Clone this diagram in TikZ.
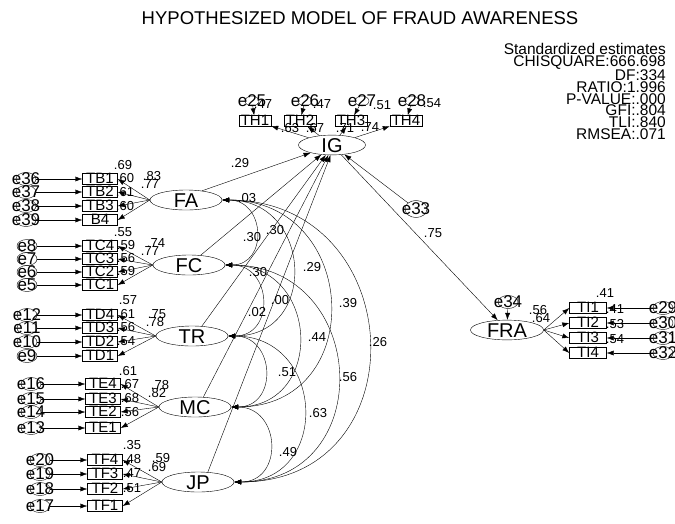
\documentclass[tikz,border=0pt]{standalone}
\usepackage{fontspec}
\setmainfont{Liberation Sans}
\usetikzlibrary{arrows.meta,shapes.geometric}

\tikzset{
  lat/.style={ellipse,draw,minimum width=72pt,minimum height=20pt,inner sep=0pt,
    text height=14pt,text depth=0pt,font=\fontsize{20}{20}\selectfont},
  obs/.style={rectangle,draw,minimum width=35pt,minimum height=11pt,inner sep=0pt,
    text height=9pt,text depth=0pt,font=\fontsize{15}{15}\selectfont},
  err/.style={ellipse,draw,minimum width=20pt,minimum height=13pt,inner sep=0pt,
    label={[font=\fontsize{17}{17}\selectfont]center:#1}},
  est/.style={font=\fontsize{13}{13}\selectfont,inner sep=0pt},
  reg/.style={-{Latex[length=7pt,width=5pt]}},
  cov/.style={{Latex[length=7pt,width=5pt]}-{Latex[length=7pt,width=5pt]}},
}

\begin{document}
\begin{tikzpicture}[x=1pt,y=-1pt]
\useasboundingbox (0,0) rectangle (675,523);
\node[font=\fontsize{18.5}{18.5}\selectfont] (title) at (360,18) {HYPOTHESIZED MODEL OF FRAUD AWARENESS};
\node[anchor=north east,align=right,inner sep=0pt,font=\fontsize{15.5}{11.7}\selectfont] (fit) at (666,43)
  {Standardized estimates\\CHISQUARE:666.698\\DF:334\\RATIO:1.996\\P-VALUE:.000\\GFI:.804\\TLI:.840\\RMSEA:.071};

% endogenous part
\node[lat,minimum width=67pt,minimum height=17pt] (IG) at (332,145) {IG};
\node[lat,minimum width=73pt,minimum height=19pt] (FRA) at (507,330) {FRA};
\node[err=e33,minimum width=22pt,minimum height=17pt] (e33) at (416,209) {};
\node[err=e34] (e34) at (508,302) {};
\draw[reg] (IG) -- (FRA);
\draw[reg] (e33) -- (IG);
\draw[reg] (e34) -- (FRA);

\foreach \i/\x/\e/\ex in {TH1/255/25/252,TH2/300/26/305,TH3/351/27/362,TH4/406/28/412}{
  \node[obs,minimum width=32pt] (\i) at (\x,121) {\i};
  \node[err=e\e,minimum width=14pt,minimum height=10pt] (e\e) at (\ex,101) {};
  \draw[reg] (e\e) -- (\i);
  \draw[reg] (IG) -- (\i);
}
\foreach \i/\y/\e in {TI1/308/29,TI2/323/30,TI3/338/31,TI4/353/32}{
  \node[obs,minimum width=37pt] (\i) at (588,\y) {\i};
  \node[err=e\e] (e\e) at (663,\y) {};
  \draw[reg] (e\e) -- (\i);
  \draw[reg] (FRA.east) -- (\i.west);
}

% exogenous factors
\node[lat] (FA) at (186,200) {FA};
\node[lat] (FC) at (189,265) {FC};
\node[lat] (TR) at (192,336) {TR};
\node[lat] (MC) at (195,407) {MC};
\node[lat] (JP) at (198,482) {JP};

\foreach \i/\y/\e in {TB1/179/36,TB2/192/37,TB3/206/38,B4/220/39}{
  \node[obs] (\i) at (100,\y) {\i};
  \node[err=e\e] (e\e) at (26,\y) {};
  \draw[reg] (e\e) -- (\i);
  \draw[reg] (FA.west) -- (\i.east);
}
\foreach \i/\y/\e in {TC4/246/8,TC3/259/7,TC2/272/6,TC1/285/5}{
  \node[obs] (\i) at (100,\y) {\i};
  \node[err=e\e] (e\e) at (27,\y) {};
  \draw[reg] (e\e) -- (\i);
  \draw[reg] (FC.west) -- (\i.east);
}
\foreach \i/\y/\e in {TD4/315/12,TD3/328/11,TD2/342/10,TD1/356/9}{
  \node[obs] (\i) at (100,\y) {\i};
  \node[err=e\e] (e\e) at (27,\y) {};
  \draw[reg] (e\e) -- (\i);
  \draw[reg] (TR.west) -- (\i.east);
}
\foreach \i/\y/\e in {TE4/384/16,TE3/399/15,TE2/412/14,TE1/428/13}{
  \node[obs] (\i) at (103,\y) {\i};
  \node[err=e\e] (e\e) at (31,\y) {};
  \draw[reg] (e\e) -- (\i);
  \draw[reg] (MC.west) -- (\i.east);
}
\foreach \i/\y/\e in {TF4/460/20,TF3/474/19,TF2/489/18,TF1/506/17}{
  \node[obs] (\i) at (105,\y) {\i};
  \node[err=e\e] (e\e) at (40,\y) {};
  \draw[reg] (e\e) -- (\i);
  \draw[reg] (JP.west) -- (\i.east);
}

% paths to IG
\draw[reg] (FA.30) -- (IG.200);
\draw[reg] (FC.40) -- (IG.222);
\draw[reg] (TR.45) -- (IG.238);
\draw[reg] (MC.50) -- (IG.250);
\draw[reg] (JP.45) -- (IG.262);

% covariances
\foreach \a/\b in {FA/FC,FA/TR,FA/MC,FA/JP,FC/TR,FC/MC,FC/JP,TR/MC,TR/JP,MC/JP}
  \draw[cov] (\a.east) to[out=0,in=0,looseness=1.7] (\b.east);

% estimates
\foreach \val/\x/\y [count=\k] in {
  .29/240/163,.03/247/198,.30/252/237,.30/275/230,.30/258/272,.29/312/267,
  .02/257/312,.00/280/300,.39/348/303,.44/317/337,.26/378/342,.51/287/372,
  .56/348/377,.63/318/413,.49/288/452,.75/433/233,
  .69/123/165,.60/125/178,.61/125/192,.60/125/206,.83/152/176,.77/150/184,
  .55/123/232,.59/126/245,.56/126/258,.59/126/271,.74/156/243,.77/150/251,
  .57/128/300,.61/126/314,.56/126/327,.54/126/341,.75/157/314,.78/155/322,
  .61/128/371,.67/130/384,.68/130/398,.56/130/412,.78/160/385,.82/157/393,
  .35/132/445,.48/132/459,.47/132/473,.51/132/488,.59/161/458,.69/157/467,
  .47/263/104,.47/322/104,.51/382/105,.54/432/103,
  .63/290/128,.67/315/128,.71/345/128,.74/370/127,
  .56/538/310,.64/541/318,.41/605/293,.41/615/309,.53/615/324,.54/615/339}
  \node[est] (s\k) at (\x,\y) {\val};
\end{tikzpicture}
\end{document}
